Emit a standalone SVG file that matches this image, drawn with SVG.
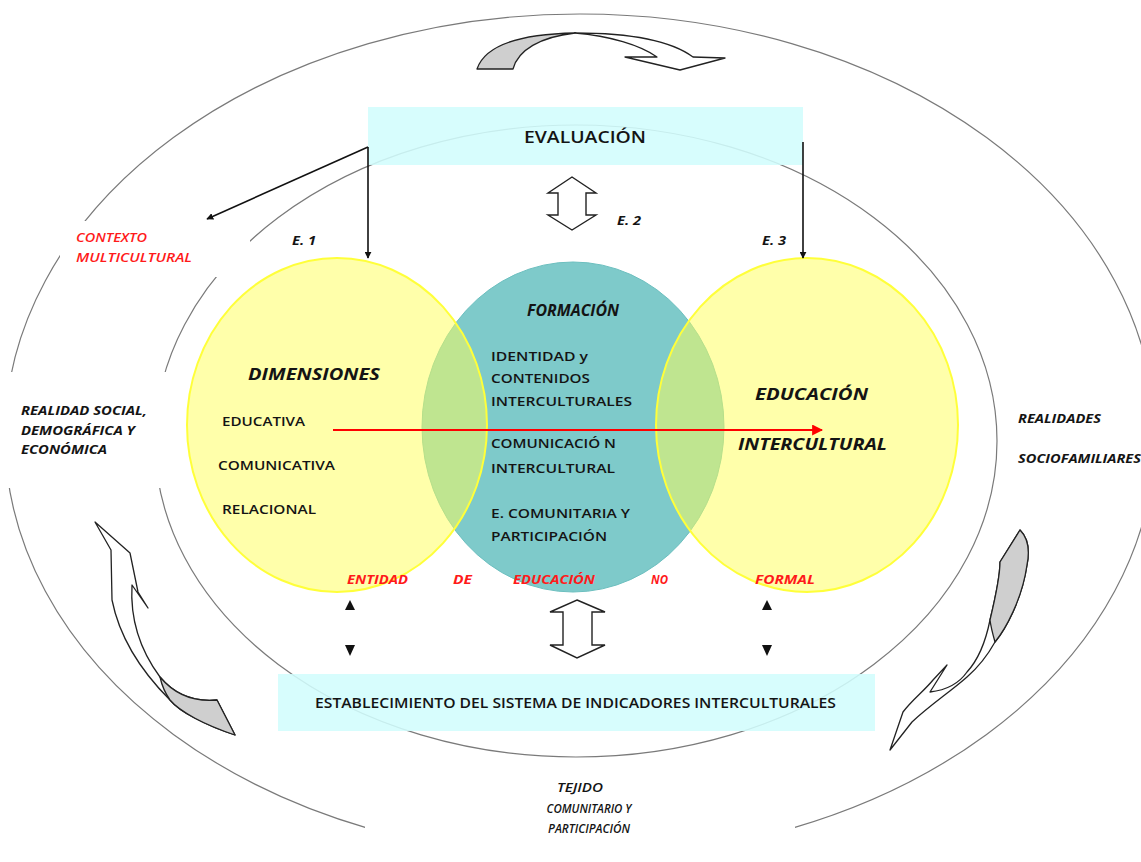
<svg xmlns="http://www.w3.org/2000/svg" width="1141" height="862" viewBox="0 0 1141 862">
<defs>
<style>
.ring{fill:none;stroke:#7a7a7a;stroke-width:1.2}
.mask{fill:#fff;stroke:none}
.box{fill:#d2fdfd;fill-opacity:0.88}
.t{font-family:"Open Sans","Liberation Sans",Arial,sans-serif;fill:#141414;font-weight:600}
.bi{font-weight:bold;font-style:italic}
.it{font-style:italic}
.red{fill:#ff1a1a}
.conn{stroke:#111;stroke-width:1.6;fill:none}
.hollow{fill:#fff;stroke:#222;stroke-width:1.4;stroke-linejoin:miter}
.curl{stroke:#222;stroke-width:1.3;stroke-linejoin:round}
</style>
<marker id="ah" viewBox="0 0 10 10" refX="9" refY="5" markerWidth="7" markerHeight="7" orient="auto" markerUnits="userSpaceOnUse">
<path d="M0,0 L10,5 L0,10 Z" fill="#111"/>
</marker>
<marker id="ahr" viewBox="0 0 10 10" refX="9" refY="5" markerWidth="11" markerHeight="11" orient="auto" markerUnits="userSpaceOnUse">
<path d="M0,0 L10,5 L0,10 Z" fill="#ff0000"/>
</marker>
</defs>
<rect width="1141" height="862" fill="#fff"/>

<g id="rings">
<ellipse class="ring" cx="580" cy="436" rx="575" ry="422"/>
<ellipse class="ring" cx="576" cy="441" rx="421" ry="316"/>
</g>

<g id="masks">
<rect class="mask" x="60" y="221" width="190" height="56"/>
<rect class="mask" x="0" y="372" width="178" height="116"/>
<rect class="mask" x="1006" y="385" width="135" height="95"/>
<rect class="mask" x="365" y="763" width="430" height="99"/>
</g>

<g id="top-arrow">
<path class="curl" fill="#cfcfcf" d="M477,69 C485,45 520,34 575,33 C540,37 518,50 513,69 Z"/>
<path class="curl" fill="#fff" d="M575,33 C630,33 670,40 693,57 L725,58 L680,70 L625,57 L657,57 C640,45 610,36 575,33 Z"/>
</g>

<g id="left-curl">
<path class="curl" fill="#fff" d="M95,522 L130,553 L138,592 L148,608 L132,585 C130,620 140,650 160,677 C175,695 195,702 217,700 L235,735 C205,725 180,712 170,700 C135,665 118,630 112,600 L111,550 Z"/>
<path class="curl" fill="#cfcfcf" d="M160,677 C175,695 195,702 217,700 L235,735 C205,725 180,712 170,700 C165,693 162,686 160,677 Z"/>
</g>

<g id="right-curl">
<path class="curl" fill="#fff" d="M1020,530 C1028,538 1030,550 1027,565 C1022,600 1005,630 995,642 C985,660 975,670 967,677 C950,692 930,705 912,722 L890,750 L903,712 C912,700 925,690 933,680 L947,665 L930,692 C948,690 960,682 967,672 C978,660 986,640 990,620 C996,595 1000,575 1000,562 Z"/>
<path class="curl" fill="#cfcfcf" d="M1020,530 C1028,538 1030,550 1027,565 C1022,600 1005,630 995,642 C993,635 991,628 990,620 C996,595 1000,575 1000,562 Z"/>
</g>

<g id="evaluacion">
<rect class="box" x="368" y="107" width="435" height="58"/>
<text class="t" x="585" y="143" font-size="17" text-anchor="middle" textLength="122" lengthAdjust="spacingAndGlyphs">EVALUACIÓN</text>
</g>

<g id="formacion">
<ellipse cx="573" cy="427" rx="151" ry="165" fill="#7ecaca" stroke="#6cbfbf" stroke-width="1"/>
</g>
<g id="dimensiones">
<ellipse cx="337" cy="425" rx="150" ry="167" fill="#ffff55" fill-opacity="0.5" stroke="#ffff3a" stroke-width="2"/>
</g>
<g id="educacion-intercultural">
<ellipse cx="807" cy="425" rx="151" ry="167" fill="#ffff55" fill-opacity="0.5" stroke="#ffff3a" stroke-width="2"/>
</g>

<g id="circle-texts">
<text class="t bi" x="248" y="380" font-size="16" textLength="132" lengthAdjust="spacingAndGlyphs">DIMENSIONES</text>
<text class="t" x="222" y="426" font-size="13" textLength="83" lengthAdjust="spacingAndGlyphs">EDUCATIVA</text>
<text class="t" x="218" y="470" font-size="13" textLength="117" lengthAdjust="spacingAndGlyphs">COMUNICATIVA</text>
<text class="t" x="222" y="514" font-size="13" textLength="94" lengthAdjust="spacingAndGlyphs">RELACIONAL</text>

<text class="t bi" x="527" y="316" font-size="16" textLength="92" lengthAdjust="spacingAndGlyphs">FORMACIÓN</text>
<text class="t" x="491" y="361" font-size="13" textLength="97" lengthAdjust="spacingAndGlyphs">IDENTIDAD y</text>
<text class="t" x="491" y="383" font-size="13" textLength="99" lengthAdjust="spacingAndGlyphs">CONTENIDOS</text>
<text class="t" x="491" y="406" font-size="13" textLength="141" lengthAdjust="spacingAndGlyphs">INTERCULTURALES</text>
<text class="t" x="491" y="448" font-size="13" textLength="125" lengthAdjust="spacingAndGlyphs">COMUNICACIÓ N</text>
<text class="t" x="491" y="473" font-size="13" textLength="124" lengthAdjust="spacingAndGlyphs">INTERCULTURAL</text>
<text class="t" x="491" y="518" font-size="13" textLength="139" lengthAdjust="spacingAndGlyphs">E. COMUNITARIA Y</text>
<text class="t" x="491" y="541" font-size="13" textLength="116" lengthAdjust="spacingAndGlyphs">PARTICIPACIÓN</text>

<text class="t bi" x="755" y="400" font-size="16" textLength="113" lengthAdjust="spacingAndGlyphs">EDUCACIÓN</text>
<text class="t bi" x="738" y="450" font-size="16" textLength="149" lengthAdjust="spacingAndGlyphs">INTERCULTURAL</text>

<text class="t bi red" x="347" y="584" font-size="12" textLength="61" lengthAdjust="spacingAndGlyphs">ENTIDAD</text>
<text class="t bi red" x="453" y="584" font-size="12" textLength="19" lengthAdjust="spacingAndGlyphs">DE</text>
<text class="t bi red" x="513" y="584" font-size="12" textLength="82" lengthAdjust="spacingAndGlyphs">EDUCACIÓN</text>
<text class="t bi red" x="651" y="584" font-size="12" textLength="17" lengthAdjust="spacingAndGlyphs">NO</text>
<text class="t bi red" x="755" y="584" font-size="12" textLength="60" lengthAdjust="spacingAndGlyphs">FORMAL</text>
</g>

<g id="indicadores">
<rect class="box" x="278" y="674" width="597" height="57"/>
<text class="t" x="315" y="708" font-size="14" textLength="521" lengthAdjust="spacingAndGlyphs">ESTABLECIMIENTO DEL SISTEMA DE INDICADORES INTERCULTURALES</text>
</g>

<g id="outer-labels">
<text class="t it red" x="76" y="242" font-size="12" textLength="71" lengthAdjust="spacingAndGlyphs">CONTEXTO</text>
<text class="t it red" x="76" y="262" font-size="12" textLength="116" lengthAdjust="spacingAndGlyphs">MULTICULTURAL</text>
<text class="t bi" x="21" y="415" font-size="12" textLength="126" lengthAdjust="spacingAndGlyphs">REALIDAD SOCIAL,</text>
<text class="t bi" x="21" y="435" font-size="12" textLength="114" lengthAdjust="spacingAndGlyphs">DEMOGRÁFICA Y</text>
<text class="t bi" x="21" y="454" font-size="12" textLength="86" lengthAdjust="spacingAndGlyphs">ECONÓMICA</text>
<text class="t bi" x="1018" y="423" font-size="12" textLength="83" lengthAdjust="spacingAndGlyphs">REALIDADES</text>
<text class="t bi" x="1018" y="463" font-size="12" textLength="123" lengthAdjust="spacingAndGlyphs">SOCIOFAMILIARES</text>
<text class="t it" x="580" y="792" font-size="12" text-anchor="middle" textLength="46" lengthAdjust="spacingAndGlyphs">TEJIDO</text>
<text class="t it" x="589" y="813" font-size="12" text-anchor="middle" textLength="85" lengthAdjust="spacingAndGlyphs">COMUNITARIO Y</text>
<text class="t it" x="589" y="833" font-size="12" text-anchor="middle" textLength="82" lengthAdjust="spacingAndGlyphs">PARTICIPACIÓN</text>
<text class="t bi" x="292" y="245" font-size="13" textLength="24" lengthAdjust="spacingAndGlyphs">E. 1</text>
<text class="t bi" x="617" y="225" font-size="13" textLength="24" lengthAdjust="spacingAndGlyphs">E. 2</text>
<text class="t bi" x="762" y="245" font-size="13" textLength="24" lengthAdjust="spacingAndGlyphs">E. 3</text>
</g>

<g id="connectors">
<polyline class="conn" points="368,147 207,219" marker-end="url(#ah)"/>
<line class="conn" x1="368" y1="147" x2="368" y2="258" marker-end="url(#ah)"/>
<line class="conn" x1="803" y1="142" x2="803" y2="258" marker-end="url(#ah)"/>
<line x1="333" y1="430" x2="822" y2="430" stroke="#ff0000" stroke-width="2" marker-end="url(#ahr)"/>
<path class="hollow" d="M572,177 L596,193 L586,193 L586,215 L596,215 L572,230 L548,215 L558,215 L558,193 L548,193 Z"/>
<path class="hollow" d="M577,600 L605,612 L592,612 L592,645 L605,645 L577,658 L550,645 L563,645 L563,612 L550,612 Z"/>
<path d="M350,600 L355,610 L345,610 Z" fill="#111"/>
<path d="M350,656 L355,645 L345,645 Z" fill="#111"/>
<path d="M767,600 L772,610 L762,610 Z" fill="#111"/>
<path d="M767,656 L772,645 L762,645 Z" fill="#111"/>
</g>
</svg>
